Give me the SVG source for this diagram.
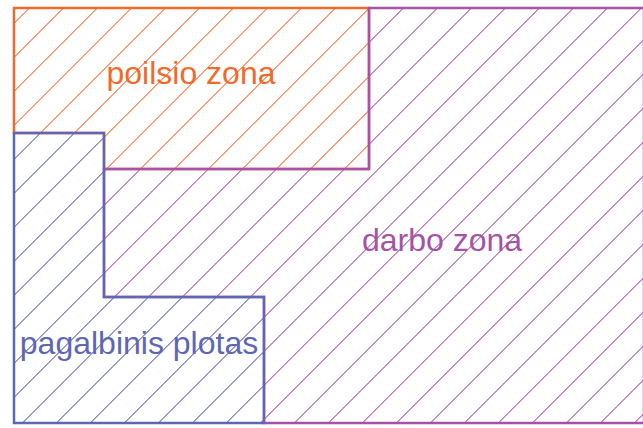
<svg xmlns="http://www.w3.org/2000/svg" width="643" height="428" viewBox="0 0 643 428">
  <defs>
    <pattern id="hO" patternUnits="userSpaceOnUse" width="24.0416" height="10" patternTransform="rotate(45)">
      <line x1="2.828" y1="-1" x2="2.828" y2="11" style="stroke:#f26a2b;stroke-width:1;shape-rendering:crispEdges"/>
    </pattern>
    <pattern id="hP" patternUnits="userSpaceOnUse" width="24.0416" height="10" patternTransform="rotate(45)">
      <line x1="2.828" y1="-1" x2="2.828" y2="11" style="stroke:#a652a6;stroke-width:1;shape-rendering:crispEdges"/>
    </pattern>
    <pattern id="hB" patternUnits="userSpaceOnUse" width="24.0416" height="10" patternTransform="rotate(45)">
      <line x1="2.828" y1="-1" x2="2.828" y2="11" style="stroke:#5f66b5;stroke-width:1;shape-rendering:crispEdges"/>
    </pattern>
  </defs>
  <style>
    .zone { stroke-width: 2.5; stroke-linejoin: miter; }
    .lbl { font-family: "Liberation Sans", Arial, sans-serif; font-size: 32px; text-anchor: middle; }
  </style>
  <rect x="0" y="0" width="643" height="428" fill="#ffffff"/>
  <g id="poilsio-zona">
    <polygon class="zone" points="14,8 369,8 369,169 104,169 104,133 14,133" fill="url(#hO)" stroke="#f26a2b"/>
    <text class="lbl" x="191" y="84" fill="#f26a2b">poilsio zona</text>
  </g>
  <g id="darbo-zona">
    <polygon class="zone" points="369,8 644,8 644,423 264,423 264,297 104,297 104,169 369,169" fill="url(#hP)" stroke="#a652a6"/>
    <text class="lbl" x="442" y="251" fill="#a652a6">darbo zona</text>
  </g>
  <g id="pagalbinis-plotas">
    <polygon class="zone" points="14,133 104,133 104,297 264,297 264,423 14,423" fill="url(#hB)" stroke="#5f66b5"/>
    <text class="lbl" x="139" y="354" fill="#5f66b5">pagalbinis plotas</text>
  </g>
  <g id="connectors"/>
</svg>
